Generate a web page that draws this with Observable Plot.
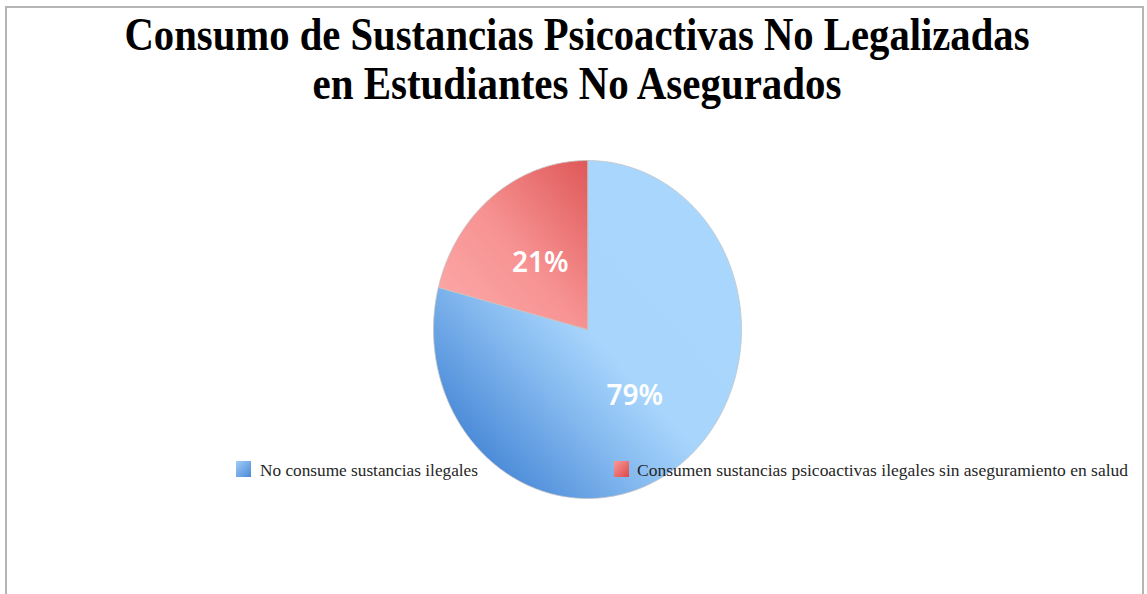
<!DOCTYPE html>
<html>
<head>
<meta charset="utf-8">
<script src="https://cdn.jsdelivr.net/npm/d3@7"></script>
<script src="https://cdn.jsdelivr.net/npm/@observablehq/plot@0.6"></script>
<style>
  html, body { margin: 0; padding: 0; background: #fff; }
  #wrap { position: relative; width: 1147px; height: 594px; overflow: hidden; background: #fff; }
  #border { position: absolute; left: 5px; top: 6px; width: 1139px; height: 640px; border: 2px solid #b4b4b4; box-sizing: border-box; pointer-events: none; }
  #chart { position: absolute; left: 0; top: 0; }
  .overlay { position: absolute; left: 0; top: 0; pointer-events: none; }
</style>
</head>
<body>
<div id="wrap">
  <div id="chart"></div>
  <svg id="title" class="overlay" width="1147" height="130"></svg>
  <svg id="legend" class="overlay" width="1147" height="594"></svg>
  <div id="border"></div>
</div>
<script>
// ---- data ----
const titleLines = ["Consumo de Sustancias Psicoactivas No Legalizadas", "en Estudiantes No Asegurados"];
const categories = ["No consume sustancias ilegales", "Consumen sustancias psicoactivas ilegales sin aseguramiento en salud"];
const values = [79, 21];
const valueLabels = ["79%", "21%"];

// ---- geometry derived from the data ----
const total = d3.sum(values);
let start = 0;
const slices = values.map((v, i) => {
  const a0 = start / total * 2 * Math.PI;
  start += v;
  const a1 = start / total * 2 * Math.PI;
  return {key: categories[i], i, a0, a1, mid: (a0 + a1) / 2, label: valueLabels[i]};
});
function slicePoints(s) {
  const pts = [{key: s.key, x: 0, y: 0}];
  const n = Math.max(2, Math.ceil((s.a1 - s.a0) / (Math.PI / 360)));
  for (let k = 0; k <= n; k++) {
    const a = s.a0 + (s.a1 - s.a0) * k / n;
    pts.push({key: s.key, x: Math.sin(a), y: Math.cos(a)});
  }
  return pts;
}
const gradIds = ["gBlue", "gRed"];
const labelPts = slices.map(s => ({label: s.label, x: 0.5 * Math.sin(s.mid), y: 0.5 * Math.cos(s.mid)}));

const plot = Plot.plot({
  width: 1147,
  height: 594,
  marginLeft: 433,
  marginRight: 406,
  marginTop: 160,
  marginBottom: 96,
  x: {domain: [-1, 1], axis: null},
  y: {domain: [-1, 1], axis: null},
  style: {background: "transparent", overflow: "visible"},
  marks: [
    ...slices.map((s, i) => Plot.line(slicePoints(s), {
      x: "x", y: "y", curve: "linear-closed",
      fill: `url(#${gradIds[i]})`, stroke: "#c4c4c4", strokeWidth: 0.8
    })),
    Plot.text(labelPts, {
      x: "x", y: "y", text: "label", fill: "white",
      fontSize: 28, fontWeight: 600, fontFamily: "Noto Sans, Open Sans, sans-serif"
    })
  ]
});
plot.insertAdjacentHTML("afterbegin", `
<defs>
  <linearGradient id="gBlue" x1="1" y1="0" x2="0" y2="1">
    <stop offset="0" stop-color="#aad7fd"/>
    <stop offset="0.5" stop-color="#a8d5fc"/>
    <stop offset="0.65" stop-color="#84b9ef"/>
    <stop offset="0.87" stop-color="#4888d7"/>
    <stop offset="1" stop-color="#3c7dd0"/>
  </linearGradient>
  <linearGradient id="gRed" x1="1" y1="0" x2="0" y2="1">
    <stop offset="0" stop-color="#df5858"/>
    <stop offset="0.5" stop-color="#f79292"/>
    <stop offset="1" stop-color="#fdabab"/>
  </linearGradient>
</defs>`);
document.getElementById("chart").appendChild(plot);

// ---- title ----
const ns = "http://www.w3.org/2000/svg";
const titleSvg = document.getElementById("title");
const titleBase = [50, 99];
const titleLen = [905, 529];
titleLines.forEach((t, i) => {
  const el = document.createElementNS(ns, "text");
  el.setAttribute("x", 577);
  el.setAttribute("y", titleBase[i]);
  el.setAttribute("text-anchor", "middle");
  el.setAttribute("font-family", "Liberation Serif, DejaVu Serif, serif");
  el.setAttribute("font-weight", "bold");
  el.setAttribute("font-size", "46");
  el.setAttribute("fill", "#000");
  el.setAttribute("textLength", titleLen[i]);
  el.setAttribute("lengthAdjust", "spacingAndGlyphs");
  el.textContent = t;
  titleSvg.appendChild(el);
});

// ---- legend ----
const legSvg = document.getElementById("legend");
legSvg.innerHTML = `
<defs>
  <linearGradient id="lgBlue" x1="0" y1="0" x2="1" y2="1">
    <stop offset="0" stop-color="#a2cdf6"/>
    <stop offset="1" stop-color="#4a89d8"/>
  </linearGradient>
  <linearGradient id="lgRed" x1="0" y1="0" x2="1" y2="1">
    <stop offset="0" stop-color="#f89a9a"/>
    <stop offset="1" stop-color="#dd4848"/>
  </linearGradient>
</defs>`;
const legX = [236, 614];
const legTextX = [260, 637];
const legTextLen = [218, 491];
const legGrad = ["lgBlue", "lgRed"];
categories.forEach((c, i) => {
  const r = document.createElementNS(ns, "rect");
  r.setAttribute("x", legX[i]);
  r.setAttribute("y", 461);
  r.setAttribute("width", 15);
  r.setAttribute("height", 16);
  r.setAttribute("fill", `url(#${legGrad[i]})`);
  legSvg.appendChild(r);
  const t = document.createElementNS(ns, "text");
  t.setAttribute("x", legTextX[i]);
  t.setAttribute("y", 476);
  t.setAttribute("font-family", "Liberation Serif, DejaVu Serif, serif");
  t.setAttribute("font-size", "17");
  t.setAttribute("fill", "#262626");
  t.setAttribute("textLength", legTextLen[i]);
  t.setAttribute("lengthAdjust", "spacingAndGlyphs");
  t.textContent = c;
  legSvg.appendChild(t);
});
</script>
</body>
</html>
